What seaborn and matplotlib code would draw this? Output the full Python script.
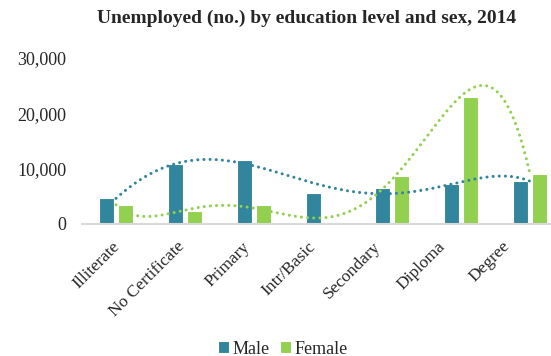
import numpy as np
import pandas as pd
import seaborn as sns
import matplotlib.pyplot as plt
import matplotlib.transforms as mtransforms

levels = ["Illiterate", "No Certificate", "Primary", "Intr/Basic", "Secondary", "Diploma", "Degree"]
male = [4700, 10900, 11500, 5600, 6500, 7200, 7800]
female = [3500, 2300, 3400, 400, 8600, 22900, 9000]

male_color = "#31859C"
female_color = "#92D050"

df = pd.DataFrame({
    "level": levels * 2,
    "sex": ["Male"] * len(levels) + ["Female"] * len(levels),
    "count": male + female,
})

sns.set_theme(style="white")
plt.rcParams["font.family"] = ["Liberation Serif", "DejaVu Serif"]

fig = plt.figure(figsize=(5.51, 3.56), dpi=100)
ax = fig.add_axes([0.148, 0.3708, 0.8766, 0.4663])

sns.barplot(
    data=df, x="level", y="count", hue="sex",
    palette={"Male": male_color, "Female": female_color}, saturation=1,
    width=0.54, gap=0.18, edgecolor="white", linewidth=0.8,
    legend=True, ax=ax,
)

# excel-style polynomial trendlines (order 5)
xs = np.arange(len(levels))
grid = np.linspace(0, len(levels) - 1, 300)
for vals, col in [(male, male_color), (female, female_color)]:
    coef = np.polyfit(xs, vals, 5)
    ax.plot(grid, np.polyval(coef, grid), color=col, lw=2.2,
            linestyle=(0, (0.01, 2.0)), dash_capstyle="round", zorder=3)

ax.set_xlim(-0.5, len(levels) - 0.5)
ax.set_ylim(0, 30000)
ax.set_yticks([0, 10000, 20000, 30000])
ax.set_yticklabels([f"{v:,}" for v in [0, 10000, 20000, 30000]], fontsize=13)
ax.set_xticks(xs)
ax.set_xticklabels(levels, rotation=45, ha="right", rotation_mode="anchor", fontsize=12.5)
ax.tick_params(axis="y", length=0, pad=11)
ax.tick_params(axis="x", length=0, pad=4)
# labels in the original drift slightly left of the bar groups
for i, lab in enumerate(ax.get_xticklabels()):
    shift = mtransforms.ScaledTranslation((-4 - 4 * i) / 100, -9 / 100, fig.dpi_scale_trans)
    lab.set_transform(lab.get_transform() + shift)
ax.set(xlabel=None, ylabel=None)
sns.despine(ax=ax, left=True, top=True, right=True)
ax.spines["bottom"].set_color("#D9D9D9")
ax.spines["bottom"].set_linewidth(1.5)

ax.legend(loc="center", bbox_to_anchor=(283 / 551, 7 / 356), bbox_transform=fig.transFigure,
          ncol=2, frameon=False, fontsize=13, handlelength=0.6, handleheight=0.6,
          handletextpad=0.2, columnspacing=0.6)

fig.text(307 / 551, 1 - 18 / 356, "Unemployed (no.) by education level and sex, 2014",
         ha="center", va="center", fontsize=14, fontweight="bold")

fig.savefig("out.png", dpi=100)
